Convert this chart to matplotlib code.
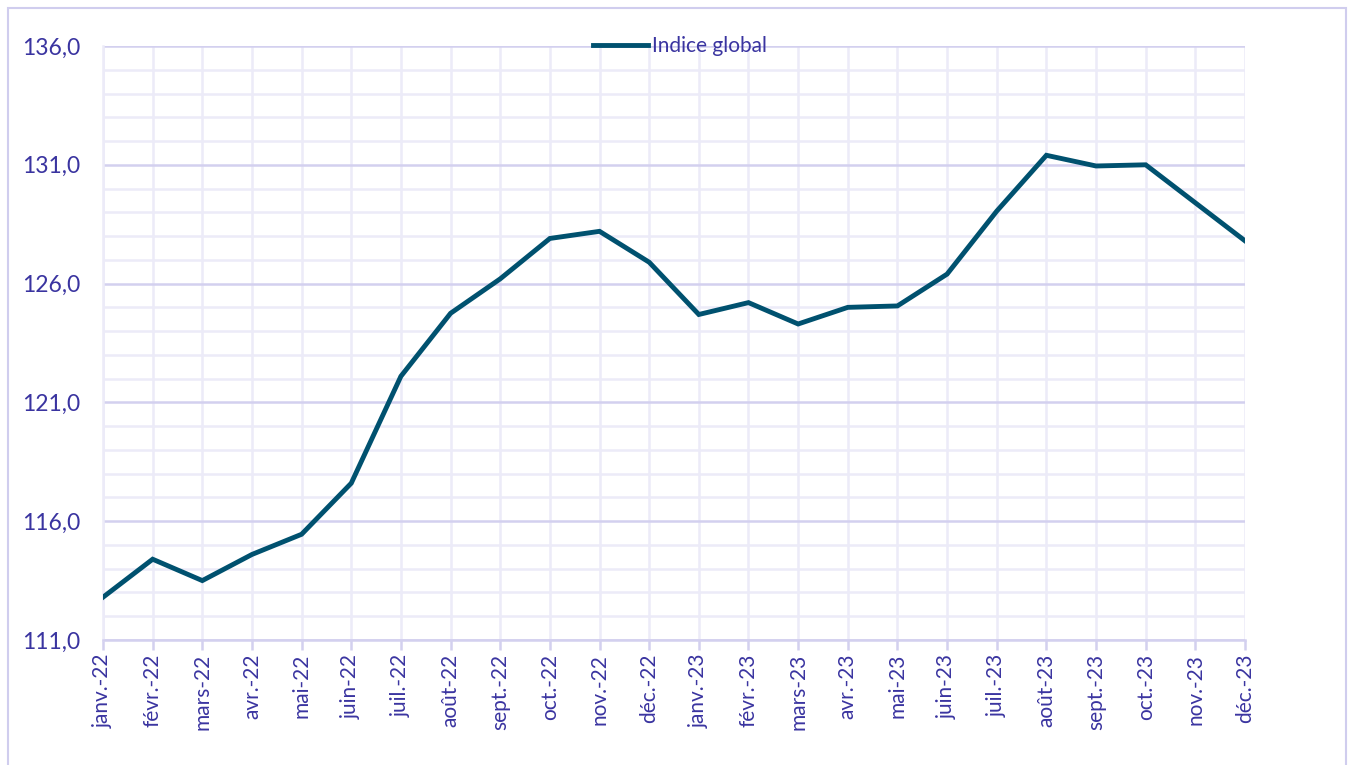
import matplotlib
matplotlib.use("Agg")
import matplotlib.pyplot as plt
from matplotlib.patches import Rectangle
from matplotlib.ticker import MultipleLocator, FixedLocator

months = ["janv.-22", "févr.-22", "mars-22", "avr.-22", "mai-22", "juin-22",
          "juil.-22", "août-22", "sept.-22", "oct.-22", "nov.-22", "déc.-22",
          "janv.-23", "févr.-23", "mars-23", "avr.-23", "mai-23", "juin-23",
          "juil.-23", "août-23", "sept.-23", "oct.-23", "nov.-23", "déc.-23"]
indice_global = [112.8, 114.4, 113.5, 114.6, 115.45, 117.6,
                 122.1, 124.75, 126.2, 127.9, 128.2, 126.9,
                 124.7, 125.2, 124.3, 125.0, 125.06, 126.4,
                 129.05, 131.4, 130.95, 131.0, 129.4, 127.8]
y_ticks = [111, 116, 121, 126, 131, 136]

text_col = "#3a34a0"
line_col = "#00516f"
major_col = "#d3d0ef"
minor_col = "#ecebf8"

plt.rcParams['font.family'] = ['Lato', 'DejaVu Sans']

W, H = 1349, 765
fig = plt.figure(figsize=(W / 100, H / 100), dpi=100)
fig.patches.append(Rectangle((7.5 / W, -0.01), (1346 - 7.5) / W, 1.01 - 7.5 / H,
                             transform=fig.transFigure, fill=False,
                             edgecolor="#d0cdee", linewidth=1.5))

left, right, top, bottom = 103, 1245, 46, 640
ax = fig.add_axes([left / W, 1 - bottom / H, (right - left) / W, (bottom - top) / H])

x = list(range(len(months)))
ax.plot(x, indice_global, color=line_col, linewidth=3.5, solid_joinstyle='miter',
        label="Indice global", zorder=3)

ax.set_xlim(0, len(months) - 1)
ax.set_ylim(111, 136)
ax.yaxis.set_major_locator(FixedLocator(y_ticks))
ax.yaxis.set_minor_locator(MultipleLocator(1))
ax.set_yticklabels([f"{v:.1f}".replace(".", ",") for v in y_ticks])
ax.set_xticks(x)
ax.set_xticklabels(months, rotation=90)

ax.grid(axis='y', which='major', color=major_col, linewidth=1.8, zorder=1)
ax.grid(axis='y', which='minor', color=minor_col, linewidth=1.8, zorder=0)
ax.grid(axis='x', which='major', color=minor_col, linewidth=1.8, zorder=0)

for s in ['top', 'right']:
    ax.spines[s].set_visible(False)
ax.spines['left'].set_color(minor_col)
ax.spines['left'].set_linewidth(1.8)
ax.spines['bottom'].set_color(major_col)
ax.spines['bottom'].set_linewidth(1.8)

ax.tick_params(axis='y', which='both', length=0, labelsize=16.5, labelcolor=text_col, pad=16.5)
ax.tick_params(axis='x', which='major', length=7, width=1.8, color=major_col,
               labelsize=15, labelcolor=text_col, pad=3)

leg = ax.legend(loc='center', bbox_to_anchor=((680 - left) / (right - left), 1.0),
                frameon=False, fontsize=15, handlelength=2.6, handletextpad=0.2,
                borderpad=0)
for t in leg.get_texts():
    t.set_color(text_col)

fig.savefig("out.png", dpi=100)
